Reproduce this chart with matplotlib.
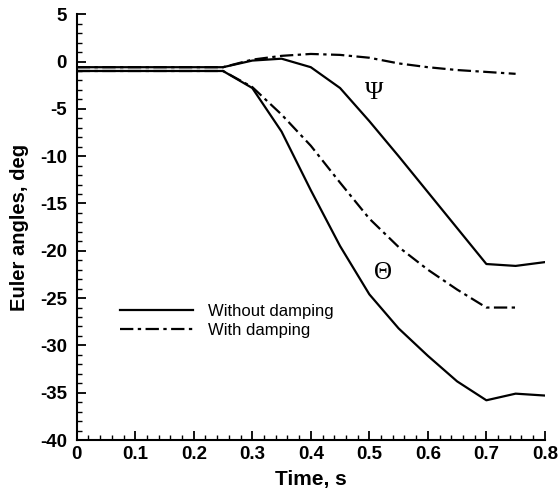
import matplotlib
matplotlib.use("Agg")
import matplotlib.pyplot as plt
import numpy as np
from matplotlib.ticker import MultipleLocator, FuncFormatter

plt.rcParams['font.family'] = ['Liberation Sans', 'DejaVu Sans']
plt.rcParams['axes.unicode_minus'] = False

# time, s
t_full = [0.0, 0.25, 0.30, 0.35, 0.40, 0.45, 0.50, 0.55, 0.60, 0.65, 0.70, 0.75, 0.80]
t_damp = [0.0, 0.25, 0.30, 0.35, 0.40, 0.45, 0.50, 0.55, 0.60, 0.65, 0.70, 0.75]

# Euler angles, deg
psi_nodamp = [-0.6, -0.6, 0.1, 0.3, -0.6, -2.8, -6.3, -10.0, -13.8, -17.6, -21.4, -21.6, -21.2]
psi_damp = [-0.6, -0.6, 0.2, 0.6, 0.8, 0.7, 0.4, -0.2, -0.6, -0.9, -1.1, -1.3]
theta_nodamp = [-1.0, -1.0, -2.8, -7.4, -13.6, -19.5, -24.6, -28.2, -31.1, -33.8, -35.8, -35.1, -35.3]
theta_damp = [-1.0, -1.0, -2.7, -5.6, -8.9, -12.8, -16.6, -19.6, -22.0, -24.1, -26.0, -26.0]

dashdot = (0, (6, 2, 1.5, 2))

fig = plt.figure(figsize=(5.6, 4.9), dpi=100)
ax = fig.add_axes([0.137, 0.102, 0.836, 0.869])

ax.plot(t_full, psi_nodamp, color='black', lw=1.6, label='Without damping')
ax.plot(t_damp, psi_damp, color='black', lw=1.6, ls=dashdot, label='With damping')
ax.plot(t_full, theta_nodamp, color='black', lw=1.6)
ax.plot(t_damp, theta_damp, color='black', lw=1.6, ls=dashdot)

ax.text(0.509, -3.3, '\u03a8', family='Liberation Serif', fontsize=18,
        ha='center', va='center')
ax.text(0.524, -22.3, '\u0398', family='Liberation Serif', fontsize=18,
        ha='center', va='center')

ax.set_xlim(0, 0.8)
ax.set_ylim(-40, 5)
ax.xaxis.set_major_locator(MultipleLocator(0.1))
ax.xaxis.set_minor_locator(MultipleLocator(0.02))
ax.yaxis.set_major_locator(MultipleLocator(5))
ax.yaxis.set_minor_locator(MultipleLocator(1))
ax.xaxis.set_major_formatter(FuncFormatter(lambda v, p: '0' if abs(v) < 1e-9 else '%.1f' % v))

ax.spines['top'].set_visible(False)
ax.spines['right'].set_visible(False)
for s in ['left', 'bottom']:
    ax.spines[s].set_linewidth(1.5)

ax.tick_params(which='major', direction='in', length=6.5, width=1.3)
ax.tick_params(which='minor', direction='in', length=3.5, width=1.0)
ax.tick_params(axis='x', which='major', pad=4)
ax.tick_params(axis='y', which='major', pad=7)
for lab in ax.get_xticklabels() + ax.get_yticklabels():
    lab.set_fontweight('bold')
    lab.set_fontsize(13.5)

ax.set_xlabel('Time, s', fontsize=15, fontweight='bold', labelpad=5)
ax.set_ylabel('Euler angles, deg', fontsize=14.5, fontweight='bold', labelpad=8)

ax.legend(loc='center left', bbox_to_anchor=(0.075, 0.279), frameon=False,
          fontsize=12, borderpad=0, handlelength=4.4, handletextpad=0.9,
          labelspacing=0.25)

fig.savefig('out.png', dpi=100)
